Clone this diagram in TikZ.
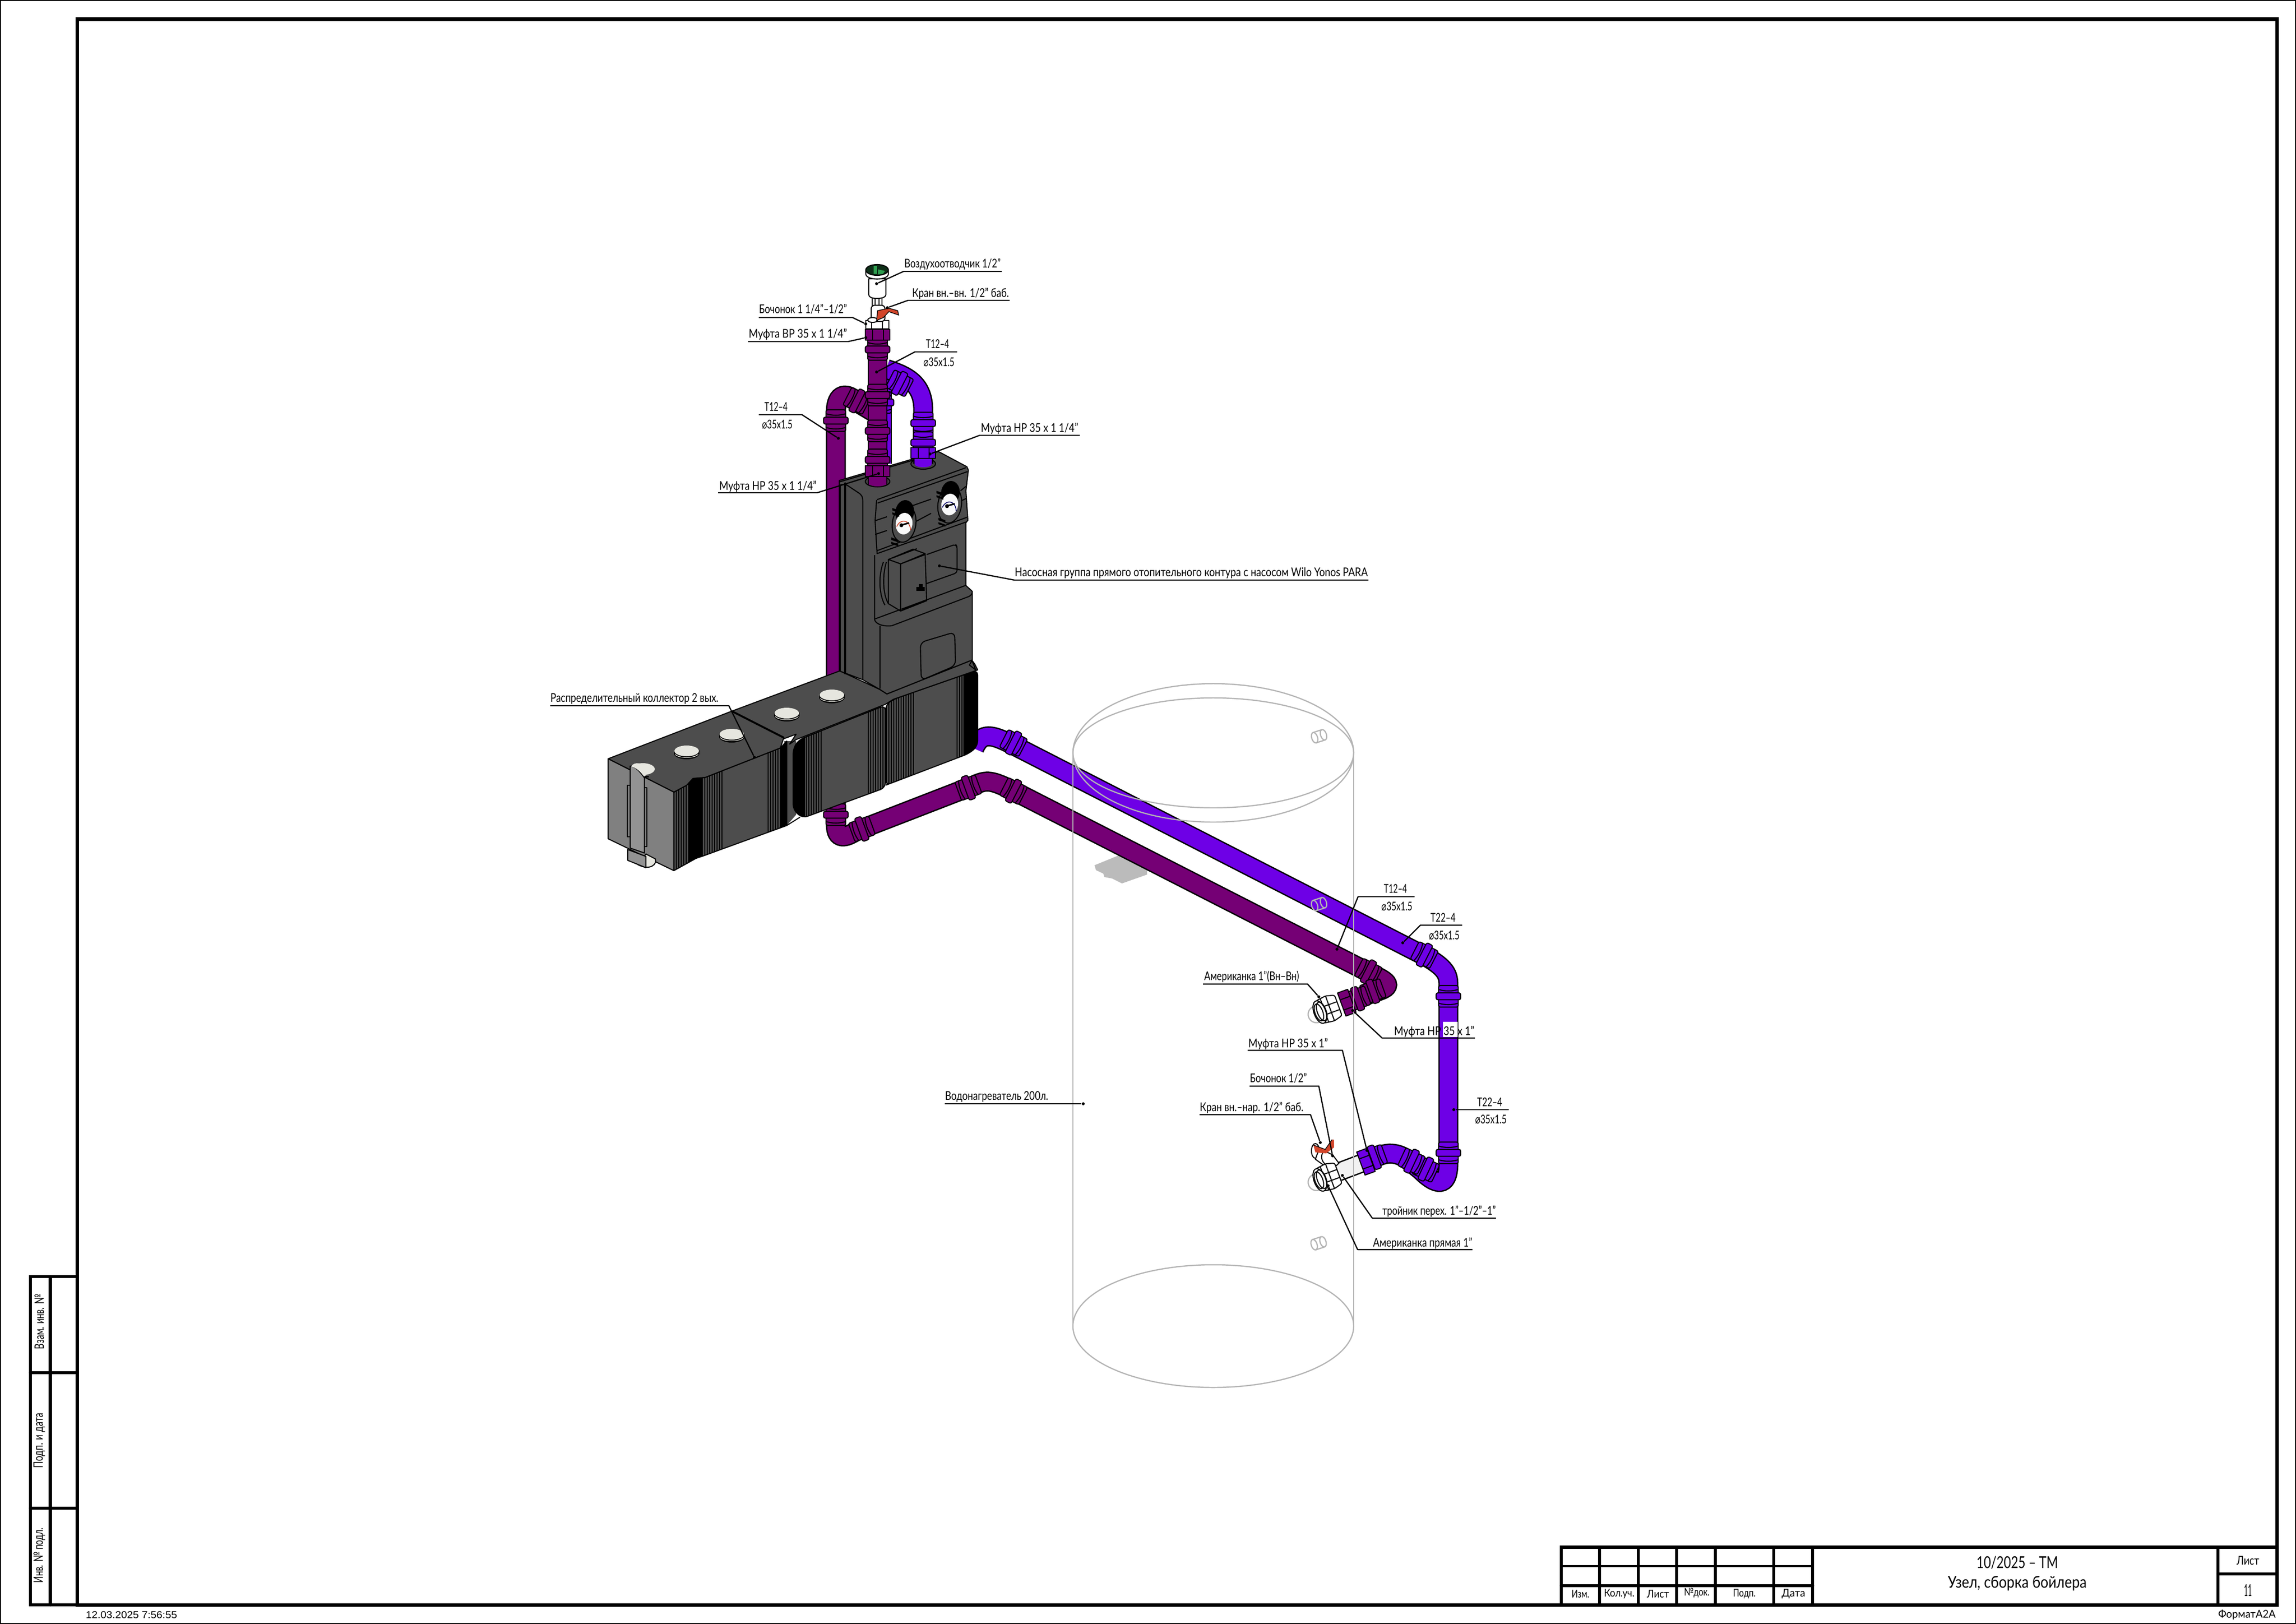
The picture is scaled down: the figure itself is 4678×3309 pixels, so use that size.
\documentclass[tikz,border=0pt]{standalone}
\usepackage{fontspec}
\usepackage{graphicx}
\usetikzlibrary{calc}
\setmainfont{Lato}
\newfontfamily\djv{DejaVu Sans}
\newfontfamily\arl{Liberation Sans}
\newlength\pxu \pxu=0.01cm
\definecolor{vio}{HTML}{6E00E6}
\definecolor{pur}{HTML}{750075}
\definecolor{blk}{HTML}{4D4D4D}
\definecolor{frontg}{HTML}{808080}
\definecolor{capw}{HTML}{E6E6DF}
\definecolor{ghost}{HTML}{B4B4B4}
\definecolor{hred}{HTML}{D2452A}
\definecolor{vgreen}{HTML}{2F9E4F}
\tikzset{
  ol/.style={line width=0.6pt,draw=black,line join=round},
  thk/.style={line width=1.9pt,draw=black,line cap=round},
  leader/.style={line width=0.7pt,draw=black,line join=round},
  dotn/.style={circle,fill=black,inner sep=0pt,minimum size=0.06cm},
  lbl/.style={inner sep=0pt,anchor=base west,font=\fontsize{7}{8}\selectfont},
  lblc/.style={inner sep=0pt,anchor=center},
  tankl/.style={line width=0.7pt,draw=ghost},
  pipeV/.style={line width=10pt,draw=vio,preaction={draw=black,line width=11.6pt}},
  pipeP/.style={line width=10pt,draw=pur,preaction={draw=black,line width=11.6pt}},
  pipeW/.style={line width=9.4pt,draw=white!95!black,preaction={draw=black,line width=11pt}},
}
% coupling: x,y,rotation,colour
\newcommand{\cpl}[4]{\begin{scope}[shift={(#1,#2)},rotate=#3]
  \filldraw[ol,fill=#4,rounded corners=1pt] (-20,-22) rectangle (20,22);
  \filldraw[ol,fill=#4,rounded corners=1pt] (-25,-7) rectangle (25,7);
  \draw[ol] (-20,-14) .. controls (-8,-10) and (8,-10) .. (20,-14);
  \draw[ol] (-20,14) .. controls (-8,18) and (8,18) .. (20,14);
  \end{scope}}
\newcommand{\hexn}[4]{\begin{scope}[shift={(#1,#2)},rotate=#3]
  \filldraw[ol,fill=#4] (-25,-11) -- (25,-11) -- (25,11) -- (-25,11) -- cycle;
  \draw[ol] (-10,-11) -- (-10,11) (12,-11) -- (12,11);
  \end{scope}}
\newcommand{\union}[2]{\begin{scope}[shift={(#1,#2)},rotate=20]
  \draw[line width=0.7pt,draw=ghost] (-26,2) circle (17);
  \filldraw[ol,fill=white,rounded corners=1pt] (-18,-24) -- (4,-27) -- (22,-22) -- (22,22) -- (4,27) -- (-18,24) -- cycle;
  \draw[ol] (4,-27) -- (4,27) (-8,-25) -- (-8,25) (-18,-8) -- (22,-8) (-18,9) -- (22,9);
  \filldraw[ol,fill=white] (-18,0) ellipse (12 and 24);
  \draw[ol] (-20,0) ellipse (8 and 18) (-14,0) ellipse (9 and 20);
  \end{scope}}
\newcommand{\fitw}[2]{\resizebox{#1\pxu}{\height}{#2}}
\newcommand{\lab}[5]{\node[lbl] (#1) at (#2,#3) {\fitw{#4}{#5}};}
\newcommand{\lead}[7]{\node[dotn] (#1-d) at (#2,#3) {};
  \coordinate (#1-s) at (#4,#5); \coordinate (#1-e) at (#6,#7);
  \draw[leader] (#1-d) -- (#1-s) -- (#1-e);}
\newcommand{\dia}{{\djv ⌀}}
\begin{document}
\begin{tikzpicture}[x=0.01cm,y=-0.01cm]
\useasboundingbox (0,0) rectangle (4678,3309);
\fill[white] (0,0) rectangle (4678,3309);
% outer thin border
\draw[line width=0.6pt,black] (1,1) rectangle (4677,3308);

% gray plate
\fill[ghost!90!white] (2230,1763) -- (2279,1743) -- (2304,1750) -- (2337,1773) -- (2337,1782) -- (2286,1800) -- (2266,1790) -- (2250,1787) -- (2248,1780) -- (2233,1773) -- cycle;

% long pipes
\draw[pipeP] (1703,1630) -- (1703,1680) .. controls (1703,1712) and (1722,1708) .. (1745,1693) -- (1985,1600) .. controls (2010,1588) and (2022,1590) .. (2062,1610) -- (2800,1987) .. controls (2835,2003) and (2835,2012) .. (2800,2022) -- (2745,2043);
\draw[pipeV] (1985,1525) .. controls (2000,1490) and (2022,1497) .. (2062,1517) -- (2905,1949) .. controls (2951,1975) and (2951,1990) .. (2951,2010) -- (2951,2370) .. controls (2951,2422) and (2925,2415) .. (2895,2385) -- (2868,2363) .. controls (2850,2350) and (2825,2342) .. (2790,2366);
\draw[pipeW] (2772,2371) -- (2727,2388);
\cpl{1703}{1660}{0}{pur}
\cpl{1756}{1689}{-70}{pur}
\cpl{1973}{1605}{-70}{pur}
\cpl{2065}{1612}{63}{pur}
\cpl{2065}{1514}{63}{vio}
\cpl{2788}{1980}{63}{pur}
\cpl{2902}{1946}{63}{vio}
\cpl{2797}{2020}{-70}{pur}
\cpl{2766}{2035}{-70}{pur}
\hexn{2744}{2043}{-70}{pur}
\cpl{2951}{2030}{0}{vio}
\cpl{2951}{2349}{0}{vio}
\cpl{2905}{2382}{65}{vio}
\cpl{2876}{2366}{65}{vio}
\cpl{2800}{2358}{-70}{vio}
\hexn{2783}{2367}{-70}{vio}
% unions
\union{2706}{2056}
% valve + barrel lower
\begin{scope}
\filldraw[ol,fill=white] (2680,2345) ellipse (8 and 15);
\filldraw[ol,fill=white] (2688,2340) -- (2715,2353) -- (2728,2370) -- (2712,2385) -- (2680,2362) -- cycle;
\draw[ol] (2697,2345) .. controls (2690,2355) and (2692,2365) .. (2700,2372);
\fill[hred] (2676,2333) -- (2700,2342) -- (2714,2322) -- (2718,2322) -- (2718,2338) -- (2702,2350) -- (2680,2348) -- cycle;
\draw[line width=0.4pt] (2676,2333) -- (2700,2342) -- (2714,2322);
\end{scope}
\union{2706}{2398}

% left riser behind block
\draw[pipeP] (1703,1420) -- (1703,840) .. controls (1703,800) and (1725,797) .. (1750,822) -- (1790,846);
\cpl{1703}{857}{0}{pur}
\cpl{1746}{817}{63}{pur}

% ---- lower blocks
\fill[blk] (1598,1510) -- (1622,1510) -- (1622,1660) -- (1603,1682) -- cycle;
\draw[ol] (1603,1682) -- (1630,1665);
% left block side
\begin{scope}
\path[clip] (1373,1614) -- (1399,1600) -- (1412,1586) -- (1437,1584) -- (1539,1544) -- (1590,1524) -- (1603,1510) -- (1603,1682) -- (1430,1745) -- (1418,1749) -- (1373,1774) -- cycle;
\fill[blk] (1360,1500) rectangle (1610,1780);
\fill[black] (1402,1500) rectangle (1431,1780);
\foreach \i in {1378,1383,...,1402,1431,1436,...,1472,1565,1570,...,1603} \draw[line width=0.35pt] (\i,1500) -- (\i,1780);
\fill[black] (1590,1500) rectangle (1603,1780);
\end{scope}
\draw[ol] (1373,1614) -- (1399,1600) -- (1412,1586) -- (1437,1584) -- (1539,1544) -- (1590,1524) -- (1603,1510) -- (1603,1682) -- (1430,1745) -- (1418,1749) -- (1373,1774) -- cycle;
% middle block
\begin{scope}
\path[clip,rounded corners=3pt] (1616,1525) -- (1628,1507) -- (1804,1437) -- (1804,1605) -- (1635,1667) -- (1616,1650) -- cycle;
\fill[blk] (1610,1430) rectangle (1810,1680);
\fill[black] (1618,1430) rectangle (1640,1680);
\foreach \i in {1618,1623,...,1676,1769,1774,...,1804} \draw[line width=0.35pt] (\i,1430) -- (\i,1680);
\end{scope}
\draw[ol,rounded corners=3pt] (1616,1525) -- (1628,1507) -- (1804,1437) -- (1804,1605) -- (1635,1667) -- (1616,1650) -- cycle;
% right block
\begin{scope}
\path[clip,rounded corners=3pt] (1804,1437) -- (1820,1425) -- (1992,1365) -- (1992,1520) -- (1975,1535) -- (1815,1596) -- (1804,1600) -- cycle;
\fill[blk] (1800,1360) rectangle (1995,1600);
\foreach \i in {1806,1811,...,1861,1950,1955,...,1992} \draw[line width=0.35pt] (\i,1360) -- (\i,1600);
\fill[black] (1963,1360) rectangle (1992,1600);
\end{scope}
\draw[ol,rounded corners=3pt] (1804,1437) -- (1820,1425) -- (1992,1365) -- (1992,1520) -- (1975,1535) -- (1815,1596) -- (1804,1600) -- cycle;
% top faces
\filldraw[ol,fill=blk] (1491,1449) -- (1711,1367) -- (1793,1405) -- (1807,1414) -- (1980,1345) -- (1986,1353) -- (1992,1365) -- (1820,1425) -- (1804,1435) -- (1622,1507) -- (1609,1516) -- (1622,1496) -- (1584,1510) -- (1597,1503) -- cycle;
\filldraw[ol,fill=blk] (1239,1546) -- (1491,1449) -- (1597,1503) -- (1590,1524) -- (1539,1544) -- (1437,1584) -- (1412,1586) -- (1399,1600) -- (1373,1614) -- cycle;
\draw[line width=1.1pt] (1491,1449) -- (1597,1503);
% left front
\filldraw[ol,fill=frontg] (1239,1546) -- (1373,1614) -- (1373,1774) -- (1239,1709) -- cycle;
% caps
\foreach \c/\y in {1399/1530,1491/1496,1603/1453,1695/1416}{
  \fill[black] (\c,\y+5) ellipse (26 and 12);
  \fill[capw] (\c,\y+6) ellipse (24 and 8);
  \fill[black] (\c,\y+1) ellipse (26 and 12);
  \fill[capw] (\c,\y) ellipse (25 and 11);
}
\fill[capw] (1310,1567) ellipse (24 and 12);
\fill[black] (1314,1581) rectangle (1322,1584);
% clip bar
\filldraw[ol,fill=capw] (1300,1762) .. controls (1325,1775) and (1340,1760) .. (1335,1750) -- (1316,1740) -- cycle;
\filldraw[ol,fill=frontg!85!white] (1279,1731) -- (1316,1745) -- (1316,1768) -- (1279,1753) -- cycle;
\filldraw[ol,fill=frontg!85!white] (1284,1561) .. controls (1295,1562) and (1302,1570) .. (1313,1585) -- (1313,1738) -- (1284,1728) -- cycle;
\fill[capw] (1286,1562) .. controls (1292,1550) and (1312,1555) .. (1322,1567) .. controls (1320,1578) and (1316,1580) .. (1312,1582) .. controls (1305,1572) and (1296,1564) .. (1286,1562) -- cycle;
\draw[ol] (1278,1600) rectangle (1284,1705) (1313,1605) rectangle (1318,1725);

% ---- pump group
\filldraw[ol,fill=blk] (1710,979) -- (1912,920) -- (1970,951) -- (1973,958) -- (1968,1000) -- (1972,1060) -- (1968,1065) -- (1968,1193) -- (1981,1205) -- (1981,1345) -- (1975,1355) -- (1988,1365) -- (1980,1345) -- (1807,1414) -- (1793,1405) -- (1758,1385) -- (1710,1367) -- cycle;
\draw[thk,line width=1.2pt] (1722,985) -- (1722,1372);
\draw[ol] (1712,988) -- (1712,1367);
\draw[ol,rounded corners=1.5pt] (1712,988) -- (1722,986) -- (1755,1008) -- (1758,1016) -- (1758,1385);
\draw[ol] (1710,982) -- (1907,924);
% gauge panel
\draw[ol] (1787,1018) -- (1968,953) (1788,1025) -- (1971,961) (1786,1019) -- (1783,1061) -- (1787,1128) -- (1970,1063) (1787,1122) -- (1970,1054);
\draw[ol] (1783,1061) -- (1807,1053) (1783,1089) -- (1807,1081) (1860,1030) -- (1897,1017) (1867,1062) -- (1897,1046) (1957,1021) -- (1968,1016) (1957,1000) -- (1968,991);
% gauges
\foreach \gx/\gy/\gc in {1842/1067/hred,1935/1028/blue!40!black}{
  \begin{scope}[shift={(\gx,\gy)},rotate=-8]
  \filldraw[ol,fill=blk] (0,0) ellipse (24 and 38);
  \fill[black] (-2,-24) ellipse (19 and 24);
  \fill[white!95!gray] (0,0) ellipse (17 and 22);
  \draw[line width=0.45pt,\gc] (-14,8) arc[start angle=200,end angle=350,x radius=15,y radius=20];
  \draw[line width=0.9pt,black] (-6,4) -- (10,-3);
  \fill[black] (-5,4) circle (4);
  \end{scope}
}
\foreach \gx/\gy in {1818/1035,1908/1000,1816/1095,1912/1055}{
  \fill[black] (\gx,\gy) -- ++(14,5) -- ++(0,5) -- ++(-14,-5) -- cycle;
  \fill[black] (\gx,\gy+9) -- ++(14,5) -- ++(0,4) -- ++(-14,-5) -- cycle;
}
% pump plate and box
\draw[ol,rounded corners=1.5pt] (1888,1130) -- (1947,1109) -- (1950,1114) -- (1950,1167) -- (1888,1189);
\draw[ol] (1800,1145) .. controls (1790,1170) and (1790,1210) .. (1803,1233) (1806,1145) .. controls (1798,1170) and (1798,1210) .. (1810,1230);
\filldraw[ol,fill=blk] (1810,1140) -- (1860,1119) -- (1885,1128) -- (1835,1149) -- cycle;
\filldraw[ol,fill=blk] (1810,1140) -- (1835,1149) -- (1835,1245) -- (1810,1230) -- cycle;
\filldraw[ol,fill=blk] (1835,1149) -- (1885,1130) -- (1888,1224) -- (1835,1245) -- cycle;
\draw[ol] (1818,1137) -- (1868,1118) (1838,1243) -- (1888,1222);
\fill[black] (1867,1196) rectangle (1884,1204);
\fill[black] (1872,1190) rectangle (1880,1198);
\draw[ol] (1782,1131) -- (1782,1263) .. controls (1785,1272) and (1800,1277) .. (1817,1275) -- (1975,1215) .. controls (1980,1212) and (1981,1208) .. (1981,1205);
\draw[ol] (1783,1261) -- (1967,1193) (1793,1275) -- (1793,1403);
\draw[ol,rounded corners=3pt] (1875,1309) -- (1945,1288) -- (1947,1356) -- (1877,1386) -- cycle;

% rings on top
\filldraw[ol,fill=blk!85!black] (1788,981) ellipse (25 and 11);
\filldraw[ol,fill=blk!85!black] (1881,945) ellipse (25 and 11);

% violet behind riser
\draw[pipeV] (1797,945) -- (1797,755);
\cpl{1796}{820}{0}{vio}
% violet branch
\draw[pipeV] (1881,945) -- (1881,835) .. controls (1881,780) and (1845,765) .. (1806,752);
\cpl{1881}{862}{0}{vio}
\cpl{1881}{902}{0}{vio}
\hexn{1881}{923}{0}{vio}
\cpl{1833}{781}{63}{vio}
\fill[vio] (1881,946) ellipse (17 and 6);
% purple riser
\draw[pipeP] (1788,988) -- (1788,668);
\cpl{1788}{712}{0}{pur}
\cpl{1788}{805}{0}{pur}
\cpl{1788}{878}{0}{pur}
\cpl{1788}{937}{0}{pur}
\hexn{1788}{682}{0}{pur}
\hexn{1788}{960}{0}{pur}
\fill[pur] (1788,985) ellipse (17 and 6);

% air vent + valve top
\filldraw[ol,fill=white] (1764,653) -- (1811,653) -- (1811,670) -- (1764,670) -- cycle;
\draw[ol] (1776,653) -- (1776,670) (1798,653) -- (1798,670);
\filldraw[ol,fill=white] (1777,607) rectangle (1797,625);
\draw[ol] (1783,607) -- (1783,625) (1791,607) -- (1791,625);
\filldraw[ol,fill=white,rounded corners=2pt] (1775,622) rectangle (1803,655);
\filldraw[ol,fill=white] (1778,652) ellipse (10 and 5);
\filldraw[ol,fill=white] (1770,568) -- (1770,600) .. controls (1770,605) and (1775,608) .. (1787,608) .. controls (1799,608) and (1805,605) .. (1805,600) -- (1805,568) -- cycle;
\filldraw[ol,fill=white] (1764,550) -- (1764,558) .. controls (1764,572) and (1810,572) .. (1810,558) -- (1810,550) -- cycle;
\filldraw[ol,fill=black!70!vgreen] (1787,550) ellipse (23 and 11);
\fill[vgreen] (1780,542) rectangle (1787,558);
\fill[vgreen] (1789,549) -- (1803,552) -- (1799,558) -- (1789,559) -- cycle;
\filldraw[line width=0.4pt,fill=hred] (1788,633) -- (1811,628) -- (1829,633) -- (1831,642) -- (1811,635) -- (1800,647) -- (1786,653) -- cycle;

% tank (over the pipes)
\draw[tankl] (2186,1534) -- (2186,2702) (2758,1534) -- (2758,2702);
\draw[tankl] (2472,1534) ellipse (286 and 141);
\draw[tankl] (2472,1534) ellipse (286 and 112);
\draw[tankl] (2472,2702) ellipse (286 and 125);
\foreach \sx/\sy in {2688/1500,2688/1842,2687/2533}{
  \begin{scope}[shift={(\sx,\sy)},rotate=18]
  \draw[tankl] (-10,-11) -- (9,-11) (-10,11) -- (9,11);
  \draw[tankl] (-10,0) ellipse (6 and 11) (9,0) ellipse (6 and 11);
  \end{scope}
}

% mask under text over the pipe
\fill[white] (2940,2082) rectangle (2970,2113);

% labels
\lab{a1}{1842}{545}{196}{Воздухоотводчик 1/2"}
\lead{a1l}{1786}{578}{1841}{553}{2041}{553}
\lab{a2}{1858}{605}{197}{Кран вн.–вн. 1/2" баб.}
\lead{a2l}{1808}{627}{1850}{612}{2057}{612}
\lab{a3}{1546}{638}{179}{Бочонок 1 1/4"–1/2"}
\lead{a3l}{1764}{660}{1737}{647}{1546}{647}
\lab{a4}{1525}{688}{200}{Муфта ВР 35 х 1 1/4"}
\lead{a4l}{1764}{688}{1728}{696}{1524}{696}
\lab{a5}{1886}{709}{47}{Т12–4}
\node[lbl] (a5b) at (1881,746) {\fitw{63}{\dia35x1.5}};
\lead{a5l}{1786}{758}{1864}{717}{1950}{717}
\lab{a6}{1557}{837}{47}{Т12–4}
\node[lbl] (a6b) at (1552,873) {\fitw{62}{\dia35x1.5}};
\lead{a6l}{1708}{893}{1634}{845}{1546}{845}
\lab{a7}{1465}{998}{198}{Муфта НР 35 х 1 1/4"}
\lead{a7l}{1790}{965}{1665}{1004}{1463}{1004}
\lab{a8}{1998}{880}{198}{Муфта НР 35 х 1 1/4"}
\lead{a8l}{1895}{925}{1996}{887}{2200}{887}
\lab{a9}{2067}{1174}{719}{Насосная группа прямого отопительного контура с насосом Wilo Yonos PARA}
\lead{a9l}{1914}{1153}{2067}{1182}{2788}{1182}
\lab{a10}{1121}{1430}{342}{Распределительный коллектор 2 вых.}
\lead{a10l}{1537}{1543}{1485}{1438}{1121}{1438}
\lab{a11}{1925}{2241}{210}{Водонагреватель 200л.}
\node[dotn] (a11d) at (2207,2249) {};
\coordinate (a11e) at (1925,2249);
\draw[leader] (a11d) -- (a11e);
\lab{a12}{2819}{1819}{47}{Т12–4}
\node[lbl] (a12b) at (2814,1855) {\fitw{63}{\dia35x1.5}};
\lead{a12l}{2724}{1934}{2767}{1827}{2882}{1827}
\lab{a13}{2914}{1878}{51}{Т22–4}
\node[lbl] (a13b) at (2911,1914) {\fitw{62}{\dia35x1.5}};
\lead{a13l}{2858}{1921}{2894}{1885}{2979}{1885}
\lab{a14}{3009}{2254}{51}{Т22–4}
\node[lbl] (a14b) at (3005,2289) {\fitw{64}{\dia35x1.5}};
\node[dotn] (a14d) at (2962,2261) {};
\coordinate (a14e) at (3074,2261);
\draw[leader] (a14d) -- (a14e);
\lab{a15}{2453}{1997}{193}{Американка 1"(Вн–Вн)}
\lead{a15l}{2687}{2031}{2664}{2005}{2451}{2005}
\lab{a16}{2840}{2109}{163}{Муфта НР 35 х 1"}
\lead{a16l}{2756}{2059}{2816}{2115}{3005}{2115}
\lab{a17}{2543}{2134}{162}{Муфта НР 35 х 1"}
\lead{a17l}{2785}{2344}{2735}{2140}{2542}{2140}
\lab{a18}{2546}{2205}{116}{Бочонок 1/2"}
\lead{a18l}{2715}{2355}{2687}{2213}{2546}{2213}
\lab{a19}{2444}{2264}{211}{Кран вн.–нар. 1/2" баб.}
\lead{a19l}{2690}{2328}{2670}{2271}{2444}{2271}
\lab{a20}{2816}{2475}{231}{тройник перех. 1"–1/2"–1"}
\lead{a20l}{2735}{2395}{2796}{2482}{3048}{2482}
\lab{a21}{2797}{2540}{202}{Американка прямая 1"}
\lead{a21l}{2706}{2416}{2766}{2546}{3000}{2546}

% drawing frame
\draw[line width=2pt,black] (157.5,39) rectangle (4639,3270);
% side table
\draw[thk] (157,2601) -- (62,2601) -- (62,3270) -- (157,3270);
\draw[thk] (102.5,2601) -- (102.5,3270);
\draw[thk] (62,2797) -- (157,2797) (62,3073) -- (157,3073);
\node[lblc,rotate=90,font=\fontsize{7.5}{9}\selectfont] (s1) at (80,2693) {\fitw{112}{Взам. инв. №}};
\node[lblc,rotate=90,font=\fontsize{7.5}{9}\selectfont] (s2) at (80,2935) {\fitw{112}{Подп. и дата}};
\node[lblc,rotate=90,font=\fontsize{7.5}{9}\selectfont] (s3) at (80,3169) {\fitw{112}{Инв. № подл.}};
% title block
\draw[thk] (3181,3270) -- (3181,3152.5) -- (4639,3152.5);
\foreach \vx in {3259,3338,3416,3495,3614,3693,4519} \draw[thk] (\vx,3152.5) -- (\vx,3270);
\draw[thk,line width=1.1pt] (3181,3191) -- (3693,3191);
\draw[thk] (3181,3231) -- (3693,3231);
\draw[thk] (4519,3207) -- (4639,3207);
\node[lblc,font=\fontsize{9.5}{11}\selectfont] (t1) at (4110,3184) {\fitw{166}{10/2025 – ТМ}};
\node[lblc,font=\fontsize{9.5}{11}\selectfont] (t2) at (4110,3226) {\fitw{283}{Узел, сборка бойлера}};
\node[lblc,font=\fontsize{7}{8}\selectfont] (t3) at (4580,3180) {\fitw{46}{Лист}};
\node[lblc,font=\fontsize{9.5}{11}\selectfont] (t4) at (4580,3240) {\fitw{16}{11}};
\node[lblc,font=\fontsize{6.2}{8}\selectfont] (h1) at (3220,3248) {\fitw{36}{Изм.}};
\node[lblc,font=\fontsize{6.2}{8}\selectfont] (h2) at (3299,3248) {\fitw{62}{Кол.уч.}};
\node[lblc,font=\fontsize{6.2}{8}\selectfont] (h3) at (3378,3248) {\fitw{45}{Лист}};
\node[lblc,font=\fontsize{6.2}{8}\selectfont] (h4) at (3457,3245) {\fitw{52}{№док.}};
\node[lblc,font=\fontsize{6.2}{8}\selectfont] (h5) at (3554,3248) {\fitw{46}{Подп.}};
\node[lblc,font=\fontsize{6.2}{8}\selectfont] (h6) at (3654,3248) {\fitw{48}{Дата}};
\node[lblc,font=\fontsize{6.2}{8}\selectfont] (fm) at (4578,3290) {\fitw{117}{ФорматА2А}};
\node[lblc,font=\fontsize{5.8}{7}\selectfont\arl] (dt) at (268,3290) {\fitw{186}{12.03.2025 7:56:55}};
\end{tikzpicture}
\end{document}
